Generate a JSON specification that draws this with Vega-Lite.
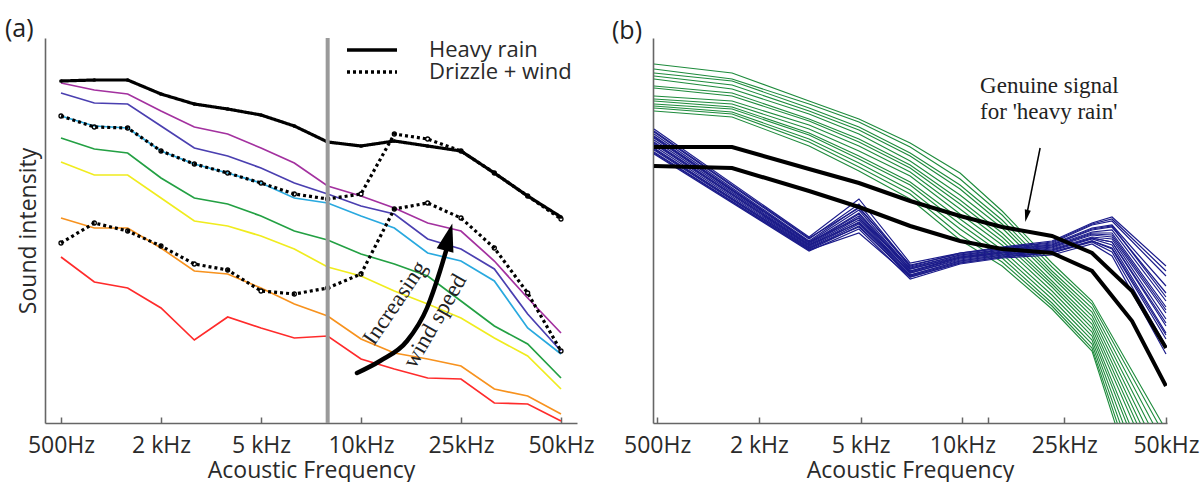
{
  "$schema": "https://vega.github.io/schema/vega-lite/v6.json",
  "background": "white",
  "padding": {"left": 5, "top": 17, "right": 0, "bottom": 0},
  "spacing": 17,
  "config": {
    "view": {"stroke": null},
    "font": "Open Sans",
    "axis": {"domainColor": "#666", "domainWidth": 1.6, "labelFont": "Open Sans", "labelFontSize": 23, "labelColor": "#2a2a2a", "titleFont": "Open Sans", "titleFontSize": 23, "titleFontWeight": "normal", "titleColor": "#2a2a2a", "grid": false, "tickColor": "#666", "tickWidth": 1.5},
    "title": {"font": "Open Sans", "fontSize": 25, "fontWeight": "normal", "color": "#222", "anchor": "start", "frame": "group"}
  },
  "datasets": {
    "aLines": [
      {"s":"purple","i":0,"v":340},{"s":"purple","i":1,"v":333},{"s":"purple","i":2,"v":329},{"s":"purple","i":3,"v":312},{"s":"purple","i":4,"v":296},{"s":"purple","i":5,"v":289},{"s":"purple","i":6,"v":275},{"s":"purple","i":7,"v":260},{"s":"purple","i":8,"v":237},{"s":"purple","i":9,"v":227},{"s":"purple","i":10,"v":215},{"s":"purple","i":11,"v":200},{"s":"purple","i":12,"v":192},{"s":"purple","i":13,"v":162},{"s":"purple","i":14,"v":125},{"s":"purple","i":15,"v":90},
      {"s":"blue","i":0,"v":330},{"s":"blue","i":1,"v":320},{"s":"blue","i":2,"v":319},{"s":"blue","i":3,"v":297},{"s":"blue","i":4,"v":275},{"s":"blue","i":5,"v":267},{"s":"blue","i":6,"v":255},{"s":"blue","i":7,"v":240},{"s":"blue","i":8,"v":229},{"s":"blue","i":9,"v":217},{"s":"blue","i":10,"v":209},{"s":"blue","i":11,"v":184},{"s":"blue","i":12,"v":174},{"s":"blue","i":13,"v":154},{"s":"blue","i":14,"v":109},{"s":"blue","i":15,"v":72},
      {"s":"cyan","i":0,"v":307},{"s":"cyan","i":1,"v":297},{"s":"cyan","i":2,"v":295},{"s":"cyan","i":3,"v":272},{"s":"cyan","i":4,"v":259},{"s":"cyan","i":5,"v":250},{"s":"cyan","i":6,"v":240},{"s":"cyan","i":7,"v":225},{"s":"cyan","i":8,"v":220},{"s":"cyan","i":9,"v":207},{"s":"cyan","i":10,"v":195},{"s":"cyan","i":11,"v":170},{"s":"cyan","i":12,"v":162},{"s":"cyan","i":13,"v":142},{"s":"cyan","i":14,"v":95},{"s":"cyan","i":15,"v":69},
      {"s":"green","i":0,"v":285},{"s":"green","i":1,"v":274},{"s":"green","i":2,"v":270},{"s":"green","i":3,"v":245},{"s":"green","i":4,"v":225},{"s":"green","i":5,"v":219},{"s":"green","i":6,"v":207},{"s":"green","i":7,"v":192},{"s":"green","i":8,"v":183},{"s":"green","i":9,"v":169},{"s":"green","i":10,"v":159},{"s":"green","i":11,"v":147},{"s":"green","i":12,"v":122},{"s":"green","i":13,"v":97},{"s":"green","i":14,"v":79},{"s":"green","i":15,"v":45},
      {"s":"yellow","i":0,"v":261},{"s":"yellow","i":1,"v":248},{"s":"yellow","i":2,"v":248},{"s":"yellow","i":3,"v":225},{"s":"yellow","i":4,"v":202},{"s":"yellow","i":5,"v":197},{"s":"yellow","i":6,"v":187},{"s":"yellow","i":7,"v":174},{"s":"yellow","i":8,"v":156},{"s":"yellow","i":9,"v":147},{"s":"yellow","i":10,"v":132},{"s":"yellow","i":11,"v":119},{"s":"yellow","i":12,"v":105},{"s":"yellow","i":13,"v":85},{"s":"yellow","i":14,"v":67},{"s":"yellow","i":15,"v":34},
      {"s":"orange","i":0,"v":205},{"s":"orange","i":1,"v":195},{"s":"orange","i":2,"v":195},{"s":"orange","i":3,"v":175},{"s":"orange","i":4,"v":152},{"s":"orange","i":5,"v":149},{"s":"orange","i":6,"v":135},{"s":"orange","i":7,"v":119},{"s":"orange","i":8,"v":107},{"s":"orange","i":9,"v":84},{"s":"orange","i":10,"v":70},{"s":"orange","i":11,"v":64},{"s":"orange","i":12,"v":57},{"s":"orange","i":13,"v":34},{"s":"orange","i":14,"v":27},{"s":"orange","i":15,"v":9},
      {"s":"red","i":0,"v":166},{"s":"red","i":1,"v":141},{"s":"red","i":2,"v":135},{"s":"red","i":3,"v":115},{"s":"red","i":4,"v":83},{"s":"red","i":5,"v":106},{"s":"red","i":6,"v":95},{"s":"red","i":7,"v":85},{"s":"red","i":8,"v":87},{"s":"red","i":9,"v":64},{"s":"red","i":10,"v":54},{"s":"red","i":11,"v":45},{"s":"red","i":12,"v":44},{"s":"red","i":13,"v":20},{"s":"red","i":14,"v":19},{"s":"red","i":15,"v":2}
    ],
    "aBlack": [
      {"s":"rain","t":"Heavy rain","i":0,"v":342},{"s":"rain","t":"Heavy rain","i":1,"v":343},{"s":"rain","t":"Heavy rain","i":2,"v":343},{"s":"rain","t":"Heavy rain","i":3,"v":329},{"s":"rain","t":"Heavy rain","i":4,"v":319},{"s":"rain","t":"Heavy rain","i":5,"v":314},{"s":"rain","t":"Heavy rain","i":6,"v":308},{"s":"rain","t":"Heavy rain","i":7,"v":297},{"s":"rain","t":"Heavy rain","i":8,"v":281},{"s":"rain","t":"Heavy rain","i":9,"v":277},{"s":"rain","t":"Heavy rain","i":10,"v":282},{"s":"rain","t":"Heavy rain","i":11,"v":277},{"s":"rain","t":"Heavy rain","i":12,"v":272},{"s":"rain","t":"Heavy rain","i":13,"v":250},{"s":"rain","t":"Heavy rain","i":14,"v":227},{"s":"rain","t":"Heavy rain","i":15,"v":206},
      {"s":"d1","t":"Drizzle + wind","i":0,"v":307},{"s":"d1","t":"Drizzle + wind","i":1,"v":296},{"s":"d1","t":"Drizzle + wind","i":2,"v":295},{"s":"d1","t":"Drizzle + wind","i":3,"v":272},{"s":"d1","t":"Drizzle + wind","i":4,"v":259},{"s":"d1","t":"Drizzle + wind","i":5,"v":250},{"s":"d1","t":"Drizzle + wind","i":6,"v":240},{"s":"d1","t":"Drizzle + wind","i":7,"v":229},{"s":"d1","t":"Drizzle + wind","i":8,"v":224},{"s":"d1","t":"Drizzle + wind","i":9,"v":229},{"s":"d1","t":"Drizzle + wind","i":10,"v":289},{"s":"d1","t":"Drizzle + wind","i":11,"v":284},{"s":"d1","t":"Drizzle + wind","i":12,"v":272},{"s":"d1","t":"Drizzle + wind","i":13,"v":250},{"s":"d1","t":"Drizzle + wind","i":14,"v":227},{"s":"d1","t":"Drizzle + wind","i":15,"v":204},
      {"s":"d2","t":"Drizzle + wind","i":0,"v":180},{"s":"d2","t":"Drizzle + wind","i":1,"v":200},{"s":"d2","t":"Drizzle + wind","i":2,"v":192},{"s":"d2","t":"Drizzle + wind","i":3,"v":177},{"s":"d2","t":"Drizzle + wind","i":4,"v":159},{"s":"d2","t":"Drizzle + wind","i":5,"v":153},{"s":"d2","t":"Drizzle + wind","i":6,"v":132},{"s":"d2","t":"Drizzle + wind","i":7,"v":129},{"s":"d2","t":"Drizzle + wind","i":8,"v":135},{"s":"d2","t":"Drizzle + wind","i":9,"v":149},{"s":"d2","t":"Drizzle + wind","i":10,"v":214},{"s":"d2","t":"Drizzle + wind","i":11,"v":220},{"s":"d2","t":"Drizzle + wind","i":12,"v":205},{"s":"d2","t":"Drizzle + wind","i":13,"v":175},{"s":"d2","t":"Drizzle + wind","i":14,"v":130},{"s":"d2","t":"Drizzle + wind","i":15,"v":72}
    ],
    "aRule": [{"i": 8, "v": 0, "v2": 385}],
    "aArrow": [{"i":8.88,"v":50},{"i":9.57,"v":62},{"i":10.38,"v":82},{"i":10.98,"v":115},{"i":11.37,"v":152},{"i":11.55,"v":172}],
    "aHead": [{"i":11.63,"v":186}],
    "aText1": [{"i":10.02,"v":120,"text":"Increasing"}],
    "aText2": [{"i":11.22,"v":102,"text":"wind  speed"}],
    "bGreen": [
      {"s":"g1","x":-0.09,"v":359},{"s":"g1","x":2.21,"v":350},{"s":"g1","x":4.48,"v":322},{"s":"g1","x":5.95,"v":304},{"s":"g1","x":7.46,"v":280},{"s":"g1","x":8.93,"v":250},{"s":"g1","x":10.17,"v":212},{"s":"g1","x":11.64,"v":160},{"s":"g1","x":12.82,"v":122},{"s":"g1","x":15,"v":-7},
      {"s":"g2","x":-0.09,"v":354},{"s":"g2","x":2.21,"v":344},{"s":"g2","x":4.48,"v":319},{"s":"g2","x":5.95,"v":301},{"s":"g2","x":7.46,"v":276},{"s":"g2","x":8.93,"v":244},{"s":"g2","x":10.17,"v":208},{"s":"g2","x":11.64,"v":156},{"s":"g2","x":12.82,"v":119},{"s":"g2","x":15,"v":-15},
      {"s":"g3","x":-0.09,"v":350},{"s":"g3","x":2.21,"v":342},{"s":"g3","x":4.48,"v":315},{"s":"g3","x":5.95,"v":296},{"s":"g3","x":7.46,"v":270},{"s":"g3","x":8.93,"v":238},{"s":"g3","x":10.17,"v":203},{"s":"g3","x":11.64,"v":152},{"s":"g3","x":12.82,"v":115},{"s":"g3","x":15,"v":-25},
      {"s":"g4","x":-0.09,"v":347},{"s":"g4","x":2.21,"v":338},{"s":"g4","x":4.48,"v":312},{"s":"g4","x":5.95,"v":293},{"s":"g4","x":7.46,"v":267},{"s":"g4","x":8.93,"v":234},{"s":"g4","x":10.17,"v":199},{"s":"g4","x":11.64,"v":149},{"s":"g4","x":12.82,"v":111},{"s":"g4","x":15,"v":-35},
      {"s":"g5","x":-0.09,"v":344},{"s":"g5","x":2.21,"v":334},{"s":"g5","x":4.48,"v":309},{"s":"g5","x":5.95,"v":289},{"s":"g5","x":7.46,"v":262},{"s":"g5","x":8.93,"v":228},{"s":"g5","x":10.17,"v":195},{"s":"g5","x":11.64,"v":146},{"s":"g5","x":12.82,"v":107},{"s":"g5","x":15,"v":-45},
      {"s":"g6","x":-0.09,"v":337},{"s":"g6","x":2.21,"v":330},{"s":"g6","x":4.48,"v":304},{"s":"g6","x":5.95,"v":284},{"s":"g6","x":7.46,"v":258},{"s":"g6","x":8.93,"v":223},{"s":"g6","x":10.17,"v":190},{"s":"g6","x":11.64,"v":142},{"s":"g6","x":12.82,"v":103},{"s":"g6","x":15,"v":-55},
      {"s":"g7","x":-0.09,"v":335},{"s":"g7","x":2.21,"v":327},{"s":"g7","x":4.48,"v":302},{"s":"g7","x":5.95,"v":281},{"s":"g7","x":7.46,"v":255},{"s":"g7","x":8.93,"v":219},{"s":"g7","x":10.17,"v":186},{"s":"g7","x":11.64,"v":139},{"s":"g7","x":12.82,"v":99},{"s":"g7","x":15,"v":-65},
      {"s":"g8","x":-0.09,"v":327},{"s":"g8","x":2.21,"v":322},{"s":"g8","x":4.48,"v":298},{"s":"g8","x":5.95,"v":277},{"s":"g8","x":7.46,"v":251},{"s":"g8","x":8.93,"v":214},{"s":"g8","x":10.17,"v":182},{"s":"g8","x":11.64,"v":136},{"s":"g8","x":12.82,"v":95},{"s":"g8","x":15,"v":-75},
      {"s":"g9","x":-0.09,"v":324},{"s":"g9","x":2.21,"v":319},{"s":"g9","x":4.48,"v":294},{"s":"g9","x":5.95,"v":272},{"s":"g9","x":7.46,"v":247},{"s":"g9","x":8.93,"v":209},{"s":"g9","x":10.17,"v":178},{"s":"g9","x":11.64,"v":132},{"s":"g9","x":12.82,"v":91},{"s":"g9","x":15,"v":-90},
      {"s":"g10","x":-0.09,"v":322},{"s":"g10","x":2.21,"v":316},{"s":"g10","x":4.48,"v":290},{"s":"g10","x":5.95,"v":267},{"s":"g10","x":7.46,"v":241},{"s":"g10","x":8.93,"v":204},{"s":"g10","x":10.17,"v":173},{"s":"g10","x":11.64,"v":128},{"s":"g10","x":12.82,"v":87},{"s":"g10","x":15,"v":-100},
      {"s":"g11","x":-0.09,"v":319},{"s":"g11","x":2.21,"v":314},{"s":"g11","x":4.48,"v":288},{"s":"g11","x":5.95,"v":264},{"s":"g11","x":7.46,"v":238},{"s":"g11","x":8.93,"v":199},{"s":"g11","x":10.17,"v":169},{"s":"g11","x":11.64,"v":124},{"s":"g11","x":12.82,"v":83},{"s":"g11","x":15,"v":-115},
      {"s":"g12","x":-0.09,"v":317},{"s":"g12","x":2.21,"v":311},{"s":"g12","x":4.48,"v":284},{"s":"g12","x":5.95,"v":260},{"s":"g12","x":7.46,"v":233},{"s":"g12","x":8.93,"v":194},{"s":"g12","x":10.17,"v":165},{"s":"g12","x":11.64,"v":120},{"s":"g12","x":12.82,"v":79},{"s":"g12","x":15,"v":-130},
      {"s":"g13","x":-0.09,"v":315},{"s":"g13","x":2.21,"v":309},{"s":"g13","x":4.48,"v":281},{"s":"g13","x":5.95,"v":256},{"s":"g13","x":7.46,"v":229},{"s":"g13","x":8.93,"v":188},{"s":"g13","x":10.17,"v":161},{"s":"g13","x":11.64,"v":117},{"s":"g13","x":12.82,"v":75},{"s":"g13","x":15,"v":-145},
      {"s":"g14","x":-0.09,"v":312},{"s":"g14","x":2.21,"v":306},{"s":"g14","x":4.48,"v":277},{"s":"g14","x":5.95,"v":252},{"s":"g14","x":7.46,"v":224},{"s":"g14","x":8.93,"v":183},{"s":"g14","x":10.17,"v":157},{"s":"g14","x":11.64,"v":114},{"s":"g14","x":12.82,"v":72},{"s":"g14","x":15,"v":-160}
    ],
    "bBlue": [
      {"s":"b1","x":-0.09,"v":294},{"s":"b1","x":4.48,"v":186},{"s":"b1","x":5.95,"v":224},{"s":"b1","x":7.46,"v":160},{"s":"b1","x":8.93,"v":170},{"s":"b1","x":10.17,"v":176},{"s":"b1","x":11.64,"v":182},{"s":"b1","x":12.82,"v":200},{"s":"b1","x":13.41,"v":206},{"s":"b1","x":15,"v":157},
      {"s":"b2","x":-0.09,"v":291},{"s":"b2","x":4.48,"v":184},{"s":"b2","x":5.95,"v":219},{"s":"b2","x":7.46,"v":157},{"s":"b2","x":8.93,"v":170},{"s":"b2","x":10.17,"v":175},{"s":"b2","x":11.64,"v":180},{"s":"b2","x":12.82,"v":198},{"s":"b2","x":13.41,"v":202},{"s":"b2","x":15,"v":147},
      {"s":"b3","x":-0.09,"v":289},{"s":"b3","x":4.48,"v":182},{"s":"b3","x":5.95,"v":216},{"s":"b3","x":7.46,"v":156},{"s":"b3","x":8.93,"v":168},{"s":"b3","x":10.17,"v":174},{"s":"b3","x":11.64,"v":179},{"s":"b3","x":12.82,"v":195},{"s":"b3","x":13.41,"v":198},{"s":"b3","x":15,"v":137},
      {"s":"b4","x":-0.09,"v":287},{"s":"b4","x":4.48,"v":181},{"s":"b4","x":5.95,"v":213},{"s":"b4","x":7.46,"v":154},{"s":"b4","x":8.93,"v":167},{"s":"b4","x":10.17,"v":173},{"s":"b4","x":11.64,"v":178},{"s":"b4","x":12.82,"v":193},{"s":"b4","x":13.41,"v":196},{"s":"b4","x":15,"v":130},
      {"s":"b5","x":-0.09,"v":285},{"s":"b5","x":4.48,"v":180},{"s":"b5","x":5.95,"v":210},{"s":"b5","x":7.46,"v":154},{"s":"b5","x":8.93,"v":166},{"s":"b5","x":10.17,"v":172},{"s":"b5","x":11.64,"v":177},{"s":"b5","x":12.82,"v":191},{"s":"b5","x":13.41,"v":193},{"s":"b5","x":15,"v":122},
      {"s":"b6","x":-0.09,"v":283},{"s":"b6","x":4.48,"v":179},{"s":"b6","x":5.95,"v":209},{"s":"b6","x":7.46,"v":152},{"s":"b6","x":8.93,"v":166},{"s":"b6","x":10.17,"v":171},{"s":"b6","x":11.64,"v":176},{"s":"b6","x":12.82,"v":190},{"s":"b6","x":13.41,"v":190},{"s":"b6","x":15,"v":116},
      {"s":"b7","x":-0.09,"v":281},{"s":"b7","x":4.48,"v":178},{"s":"b7","x":5.95,"v":207},{"s":"b7","x":7.46,"v":152},{"s":"b7","x":8.93,"v":165},{"s":"b7","x":10.17,"v":170},{"s":"b7","x":11.64,"v":175},{"s":"b7","x":12.82,"v":188},{"s":"b7","x":13.41,"v":186},{"s":"b7","x":15,"v":110},
      {"s":"b8","x":-0.09,"v":279},{"s":"b8","x":4.48,"v":177},{"s":"b8","x":5.95,"v":205},{"s":"b8","x":7.46,"v":150},{"s":"b8","x":8.93,"v":164},{"s":"b8","x":10.17,"v":170},{"s":"b8","x":11.64,"v":174},{"s":"b8","x":12.82,"v":186},{"s":"b8","x":13.41,"v":184},{"s":"b8","x":15,"v":104},
      {"s":"b9","x":-0.09,"v":277},{"s":"b9","x":4.48,"v":176},{"s":"b9","x":5.95,"v":203},{"s":"b9","x":7.46,"v":150},{"s":"b9","x":8.93,"v":163},{"s":"b9","x":10.17,"v":169},{"s":"b9","x":11.64,"v":173},{"s":"b9","x":12.82,"v":185},{"s":"b9","x":13.41,"v":181},{"s":"b9","x":15,"v":97},
      {"s":"b10","x":-0.09,"v":275},{"s":"b10","x":4.48,"v":175},{"s":"b10","x":5.95,"v":201},{"s":"b10","x":7.46,"v":148},{"s":"b10","x":8.93,"v":162},{"s":"b10","x":10.17,"v":168},{"s":"b10","x":11.64,"v":172},{"s":"b10","x":12.82,"v":184},{"s":"b10","x":13.41,"v":178},{"s":"b10","x":15,"v":90},
      {"s":"b11","x":-0.09,"v":273},{"s":"b11","x":4.48,"v":174},{"s":"b11","x":5.95,"v":199},{"s":"b11","x":7.46,"v":147},{"s":"b11","x":8.93,"v":161},{"s":"b11","x":10.17,"v":167},{"s":"b11","x":11.64,"v":171},{"s":"b11","x":12.82,"v":182},{"s":"b11","x":13.41,"v":174},{"s":"b11","x":15,"v":84},
      {"s":"b12","x":-0.09,"v":271},{"s":"b12","x":4.48,"v":173},{"s":"b12","x":5.95,"v":197},{"s":"b12","x":7.46,"v":146},{"s":"b12","x":8.93,"v":160},{"s":"b12","x":10.17,"v":166},{"s":"b12","x":11.64,"v":170},{"s":"b12","x":12.82,"v":181},{"s":"b12","x":13.41,"v":171},{"s":"b12","x":15,"v":77},
      {"s":"b13","x":-0.09,"v":269},{"s":"b13","x":4.48,"v":172},{"s":"b13","x":5.95,"v":194},{"s":"b13","x":7.46,"v":144},{"s":"b13","x":8.93,"v":159},{"s":"b13","x":10.17,"v":165},{"s":"b13","x":11.64,"v":168},{"s":"b13","x":12.82,"v":179},{"s":"b13","x":13.41,"v":167},{"s":"b13","x":15,"v":69},
      {"s":"b14","x":-0.09,"v":292},{"s":"b14","x":4.48,"v":185},{"s":"b14","x":5.95,"v":215},{"s":"b14","x":7.46,"v":158},{"s":"b14","x":8.93,"v":169},{"s":"b14","x":10.17,"v":175},{"s":"b14","x":11.64,"v":181},{"s":"b14","x":12.82,"v":199},{"s":"b14","x":13.41,"v":204},{"s":"b14","x":15,"v":152},
      {"s":"b15","x":-0.09,"v":286},{"s":"b15","x":4.48,"v":181},{"s":"b15","x":5.95,"v":205},{"s":"b15","x":7.46,"v":155},{"s":"b15","x":8.93,"v":168},{"s":"b15","x":10.17,"v":173},{"s":"b15","x":11.64,"v":178},{"s":"b15","x":12.82,"v":194},{"s":"b15","x":13.41,"v":197},{"s":"b15","x":15,"v":126},
      {"s":"b16","x":-0.09,"v":280},{"s":"b16","x":4.48,"v":178},{"s":"b16","x":5.95,"v":200},{"s":"b16","x":7.46,"v":151},{"s":"b16","x":8.93,"v":165},{"s":"b16","x":10.17,"v":171},{"s":"b16","x":11.64,"v":176},{"s":"b16","x":12.82,"v":189},{"s":"b16","x":13.41,"v":188},{"s":"b16","x":15,"v":113},
      {"s":"b17","x":-0.09,"v":274},{"s":"b17","x":4.48,"v":175},{"s":"b17","x":5.95,"v":196},{"s":"b17","x":7.46,"v":148},{"s":"b17","x":8.93,"v":162},{"s":"b17","x":10.17,"v":168},{"s":"b17","x":11.64,"v":173},{"s":"b17","x":12.82,"v":185},{"s":"b17","x":13.41,"v":181},{"s":"b17","x":15,"v":100},
      {"s":"b18","x":-0.09,"v":270},{"s":"b18","x":4.48,"v":173},{"s":"b18","x":5.95,"v":190},{"s":"b18","x":7.46,"v":146},{"s":"b18","x":8.93,"v":160},{"s":"b18","x":10.17,"v":166},{"s":"b18","x":11.64,"v":170},{"s":"b18","x":12.82,"v":182},{"s":"b18","x":13.41,"v":175},{"s":"b18","x":15,"v":88}
    ],
    "bBlack": [
      {"s":"k1","x":-0.09,"v":276},{"s":"k1","x":2.21,"v":276},{"s":"k1","x":4.48,"v":254},{"s":"k1","x":5.95,"v":240},{"s":"k1","x":7.46,"v":222},{"s":"k1","x":8.93,"v":207},{"s":"k1","x":10.17,"v":196},{"s":"k1","x":11.64,"v":187},{"s":"k1","x":12.82,"v":170},{"s":"k1","x":14.0,"v":132},{"s":"k1","x":15,"v":75},
      {"s":"k2","x":-0.09,"v":257},{"s":"k2","x":2.21,"v":255},{"s":"k2","x":4.48,"v":232},{"s":"k2","x":5.95,"v":216},{"s":"k2","x":7.46,"v":197},{"s":"k2","x":8.93,"v":182},{"s":"k2","x":10.17,"v":174},{"s":"k2","x":11.64,"v":170},{"s":"k2","x":12.82,"v":152},{"s":"k2","x":14.0,"v":102},{"s":"k2","x":15,"v":37}
    ],
    "bText": [{"x":9.52,"v":330,"text":"Genuine  signal"},{"x":9.52,"v":304,"text":"for 'heavy rain'"}],
    "bArrow": [{"x":11.29,"v":275,"x2":10.9,"v2":209}],
    "bHead": [{"x":10.89,"v":207}]
  },
  "hconcat": [
    {
      "width": 532,
      "height": 385,
      "title": {"text": "(a)", "dx": -40, "offset": -6},
      "encoding": {
        "x": {"field": "i", "type": "quantitative", "scale": {"domain": [-0.48, 15.48], "nice": false, "zero": false},
              "axis": {"values": [0, 3, 6, 9, 12, 15], "labelExpr": "['500Hz','2 kHz','5 kHz','10kHz','25kHz','50kHz'][round(datum.value/3)]", "title": "Acoustic Frequency", "tickSize": -6, "labelPadding": 17, "titlePadding": 2, "labelFlush": false}},
        "y": {"field": "v", "type": "quantitative", "scale": {"domain": [0, 385], "nice": false, "zero": false},
              "axis": {"ticks": false, "labels": false, "title": "Sound intensity", "titlePadding": 5}}
      },
      "layer": [
        {
          "data": {"name": "aLines"},
          "mark": {"type": "line", "strokeWidth": 1.7},
          "encoding": {
            "color": {"field": "s", "type": "nominal", "legend": null,
                      "scale": {"domain": ["purple", "blue", "cyan", "green", "yellow", "orange", "red"],
                                "range": ["#a3319f", "#4a3fb0", "#29a9df", "#23a043", "#f0ec1e", "#f7921e", "#ff2b2b"]}}
          }
        },
        {
          "data": {"name": "aBlack"},
          "mark": {"type": "line", "strokeWidth": 3.2, "color": "black"},
          "encoding": {
            "detail": {"field": "s"},
            "strokeDash": {"field": "t", "type": "nominal",
                           "scale": {"domain": ["Heavy rain", "Drizzle + wind"], "range": [[1, 0], [3, 3]]},
                           "legend": {"orient": "none", "legendX": 300, "legendY": 2, "title": null, "symbolType": "stroke", "symbolSize": 2500, "symbolStrokeWidth": 3.5, "symbolStrokeColor": "black", "labelFontSize": 22, "labelFont": "Open Sans", "labelColor": "#2a2a2a", "labelOffset": 30, "clipHeight": 20, "rowPadding": 0, "padding": 0}}
          }
        },
        {
          "data": {"name": "aBlack"},
          "transform": [{"filter": "datum.s == 'rain'"}],
          "mark": {"type": "point", "filled": true, "size": 14, "color": "black", "opacity": 1}
        },
        {
          "data": {"name": "aBlack"},
          "transform": [{"filter": "datum.s != 'rain'"}],
          "mark": {"type": "point", "filled": false, "size": 16, "color": "black", "strokeWidth": 1.3, "opacity": 1}
        },
        {
          "data": {"name": "aRule"},
          "mark": {"type": "rule", "color": "#9a9a9a", "strokeWidth": 4},
          "encoding": {"y2": {"field": "v2"}}
        },
        {
          "data": {"name": "aArrow"},
          "mark": {"type": "line", "color": "black", "strokeWidth": 4.5, "interpolate": "monotone", "strokeCap": "round"}
        },
        {
          "data": {"name": "aHead"},
          "mark": {"type": "point", "shape": "M0,-1L0.62,1L-0.62,1Z", "size": 784, "angle": 15, "filled": true, "color": "black", "opacity": 1}
        },
        {
          "data": {"name": "aText1"},
          "mark": {"type": "text", "font": "Liberation Serif", "fontSize": 23, "angle": -56, "align": "center", "baseline": "middle", "color": "#222"},
          "encoding": {"text": {"field": "text"}}
        },
        {
          "data": {"name": "aText2"},
          "mark": {"type": "text", "font": "Liberation Serif", "fontSize": 23, "angle": -60, "align": "center", "baseline": "middle", "color": "#222"},
          "encoding": {"text": {"field": "text"}}
        }
      ]
    },
    {
      "width": 514,
      "height": 385,
      "title": {"text": "(b)", "dx": -41, "offset": -6},
      "encoding": {
        "x": {"field": "x", "type": "quantitative", "scale": {"domain": [-0.12, 15.03], "nice": false, "zero": false},
              "axis": {"values": [0, 3, 6, 9, 9.76, 12, 15], "labelExpr": "datum.value==0?'500Hz':datum.value==3?'2 kHz':datum.value==6?'5 kHz':datum.value==9?'10kHz':datum.value==12?'25kHz':datum.value==15?'50kHz':''", "title": "Acoustic Frequency", "tickSize": -6, "labelPadding": 17, "titlePadding": 2, "labelFlush": false}},
        "y": {"field": "v", "type": "quantitative", "scale": {"domain": [0, 385], "nice": false, "zero": false},
              "axis": {"ticks": false, "labels": false, "title": null}}
      },
      "layer": [
        {
          "data": {"name": "bGreen"},
          "mark": {"type": "line", "strokeWidth": 1.1, "color": "#1e8b3c", "clip": true},
          "encoding": {"detail": {"field": "s"}}
        },
        {
          "data": {"name": "bBlue"},
          "mark": {"type": "line", "strokeWidth": 1.2, "color": "#1b1b8a", "clip": true},
          "encoding": {"detail": {"field": "s"}}
        },
        {
          "data": {"name": "bBlack"},
          "mark": {"type": "line", "strokeWidth": 4, "color": "black", "clip": true},
          "encoding": {"detail": {"field": "s"}}
        },
        {
          "data": {"name": "bText"},
          "mark": {"type": "text", "font": "Liberation Serif", "fontSize": 23, "align": "left", "baseline": "alphabetic", "color": "#222"},
          "encoding": {"text": {"field": "text"}}
        },
        {
          "data": {"name": "bArrow"},
          "mark": {"type": "rule", "color": "black", "strokeWidth": 1.5},
          "encoding": {"x2": {"field": "x2"}, "y2": {"field": "v2"}}
        },
        {
          "data": {"name": "bHead"},
          "mark": {"type": "point", "shape": "M0,-1L0.5,1L-0.5,1Z", "size": 150, "angle": 192, "filled": true, "color": "black", "opacity": 1}
        }
      ]
    }
  ]
}
